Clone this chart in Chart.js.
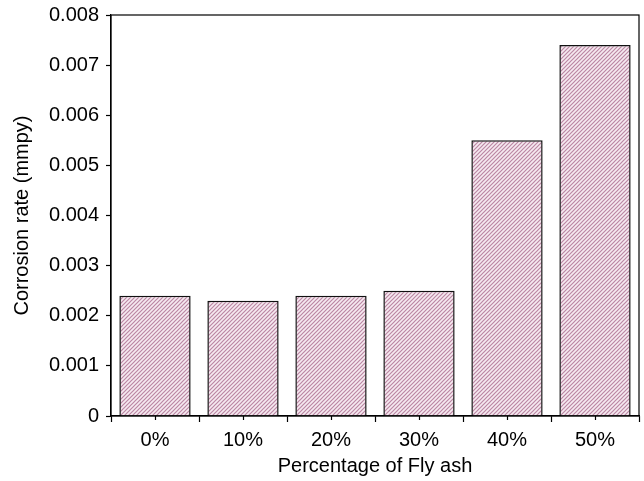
<!DOCTYPE html>
<html>
<head>
<meta charset="utf-8">
<script src="https://cdn.jsdelivr.net/npm/chart.js@4"></script>
<style>
  html, body { margin: 0; padding: 0; background: #fff; }
  #wrap { width: 644px; height: 481px; }
</style>
</head>
<body>
<div id="wrap"><canvas id="grafico"></canvas></div>
<script>
// dados do gráfico
const categorias = ['0%', '10%', '20%', '30%', '40%', '50%'];
const taxaCorrosao = [0.0024, 0.0023, 0.0024, 0.0025, 0.0055, 0.0074];
const tituloX = 'Percentage of Fly ash';
const tituloY = 'Corrosion rate (mmpy)';

// hachura diagonal das barras
function criarHachura() {
  const c = document.createElement('canvas');
  c.width = 4; c.height = 4;
  const g = c.getContext('2d');
  g.fillStyle = '#f6eaf1';
  g.fillRect(0, 0, 4, 4);
  g.strokeStyle = '#bb86a3';
  g.lineWidth = 1.2;
  g.beginPath();
  g.moveTo(0, 4); g.lineTo(4, 0);
  g.moveTo(-1, 1); g.lineTo(1, -1);
  g.moveTo(3, 5); g.lineTo(5, 3);
  g.stroke();
  return g.createPattern(c, 'repeat');
}

// moldura + ticks menores no centro das categorias
const moldura = {
  id: 'moldura',
  afterDraw(chart) {
    const { ctx, chartArea: a, scales } = chart;
    ctx.save();
    ctx.strokeStyle = '#000';
    ctx.lineWidth = 1.2;
    ctx.strokeRect(a.left, a.top, a.right - a.left, a.bottom - a.top);
    ctx.beginPath();
    categorias.forEach((c, i) => {
      const x = Math.round(scales.x.getPixelForValue(i)) + 0.5;
      ctx.moveTo(x, a.bottom);
      ctx.lineTo(x, a.bottom + 4);
    });
    ctx.stroke();
    ctx.restore();
  }
};

Chart.defaults.font.family = '"Liberation Sans", Arial, sans-serif';
Chart.defaults.color = '#000';

const ctx = document.getElementById('grafico').getContext('2d');
new Chart(ctx, {
  type: 'bar',
  data: {
    labels: categorias,
    datasets: [{
      data: taxaCorrosao,
      backgroundColor: criarHachura(),
      borderColor: '#111',
      borderWidth: 1.5,
      borderSkipped: 'bottom',
      categoryPercentage: 0.81,
      barPercentage: 1
    }]
  },
  options: {
    responsive: true,
    maintainAspectRatio: false,
    animation: false,
    layout: { padding: { top: 15, right: 5, left: 0, bottom: 0 } },
    plugins: { legend: { display: false }, tooltip: { enabled: false } },
    scales: {
      x: {
        offset: true,
        grid: { offset: true, drawOnChartArea: false, tickLength: 6, tickColor: '#000', tickWidth: 1.2 },
        border: { color: '#000', width: 1.2 },
        ticks: { font: { size: 20 }, padding: 6 },
        title: { display: true, text: tituloX, font: { size: 20 }, padding: { top: 2, bottom: 3 } },
        afterFit(scale) { scale.height = 65; }
      },
      y: {
        min: 0,
        max: 0.008,
        grid: { drawOnChartArea: false, tickLength: 5, tickColor: '#000', tickWidth: 1.2 },
        border: { color: '#000', width: 1.2 },
        ticks: {
          stepSize: 0.0005,
          font: { size: 20 },
          padding: 7,
          callback(v) {
            const k = Math.round(v * 10000);
            if (k % 10 !== 0) return '';
            return k === 0 ? '0' : (k / 10000).toFixed(3);
          }
        },
        title: { display: true, text: tituloY, font: { size: 20 }, padding: { top: 10, bottom: 4 } },
        afterFit(scale) {
          scale.width = 111;
          scale.paddingTop = 0;
        }
      }
    }
  },
  plugins: [moldura]
});
</script>
</body>
</html>
